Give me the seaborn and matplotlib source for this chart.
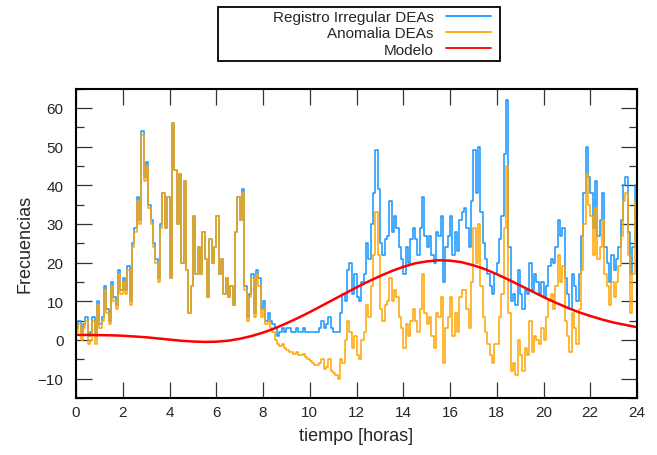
import numpy as np
import pandas as pd
import matplotlib
matplotlib.use("Agg")
import matplotlib.pyplot as plt
import seaborn as sns
from matplotlib.ticker import MultipleLocator

# ---------------- data ----------------
paso_horas = 0.1  # one value every 6 minutes

registro = [
    3, 5, 2, 4, 6, 1, 2, 6, 1, 10,            # 0 h
    4, 6, 14, 8, 5, 15, 11, 9, 18, 13,        # 1 h
    16, 13, 19, 10, 25, 29, 37, 31, 54, 42,   # 2 h
    46, 35, 31, 25, 21, 16, 30, 38, 29, 37,   # 3 h
    16, 56, 44, 30, 43, 20, 41, 18, 7, 14,    # 4 h
    32, 17, 24, 17, 28, 21, 11, 26, 20, 24,   # 5 h
    32, 17, 21, 12, 16, 11, 14, 9, 28, 37,    # 6 h
    31, 39, 14, 6, 12, 17, 7, 18, 16, 8,      # 7 h
    10, 5, 7, 5, 4, 3, 1, 2, 3, 2,            # 8 h
    3, 3, 2, 2, 3, 2, 2, 3, 2, 2,             # 9 h
    2, 2, 2, 2, 3, 5, 3, 4, 6, 3,             # 10 h
    2, 2, 2, 7, 12, 10, 18, 20, 12, 17,       # 11 h
    11, 10, 15, 17, 25, 21, 30, 38, 49, 39,   # 12 h
    25, 22, 26, 27, 36, 28, 32, 29, 24, 21,   # 13 h
    17, 24, 20, 26, 29, 26, 22, 29, 37, 27,   # 14 h
    24, 27, 22, 20, 28, 27, 32, 15, 24, 27,   # 15 h
    32, 22, 28, 23, 31, 33, 34, 29, 24, 36,   # 16 h
    49, 38, 50, 33, 25, 21, 17, 14, 12, 17,   # 17 h
    20, 26, 32, 48, 62, 24, 10, 12, 9, 18,    # 18 h
    12, 8, 13, 12, 20, 13, 17, 15, 12, 15,    # 19 h
    11, 14, 19, 21, 20, 24, 31, 27, 29, 16,   # 20 h
    12, 8, 17, 14, 10, 17, 27, 38, 50, 42,    # 21 h
    38, 29, 41, 27, 31, 38, 24, 20, 15, 22,   # 22 h
    18, 21, 24, 31, 40, 42, 28, 17, 24, 40,   # 23 h
]

anomalia = [
    2, 4, 0, 3, 5, -1, 0, 5, -1, 9,
    3, 5, 13, 7, 4, 14, 10, 8, 17, 12,
    15, 12, 18, 9, 24, 28, 36, 30, 53, 41,
    45, 34, 30, 24, 20, 15, 29, 38, 29, 37,
    16, 56, 44, 30, 43, 20, 41, 18, 7, 14,
    32, 17, 24, 17, 28, 21, 11, 26, 20, 24,
    32, 17, 21, 12, 16, 11, 14, 9, 28, 37,
    31, 38, 13, 5, 11, 16, 6, 17, 14, 6,
    8, 4, 5, 3, 2, 0, -1, -1.5, -1, -2,
    -2.5, -3, -3, -3.5, -3, -4, -4, -3.5, -4.5, -5,
    -5.5, -6, -6.5, -6.5, -6, -5, -7.5, -7, -5, -8,
    -8.5, -9, -10, -5, -6, 0, 5, 2, -2, 1,
    -4, -5, 0, 2, 9, 6, 14, 22, 33, 22,
    8, 5, 9, 10, 16, 10, 13, 11, 6, 3,
    -2, 4, 1, 5, 8, 5, 2, 8, 17, 7,
    4, 6, 1, -2, 7, 6, 11, -6, 3, 6,
    11, 1, 7, 2, 11, 13, 13, 8, 3, 15,
    29, 20, 30, 14, 6, 2, -1, -4, -6, -1,
    -1, 6, 12, 29, 45, 7, -8, -6, -9, 0,
    -4, -8, -2, -4, 5, -3, 1, 0, -1, 3,
    0, 6, 10, 12, 8, 14, 22, 15, 19, 5,
    1, -3, 7, 3, -1, 8, 18, 30, 43, 35,
    32, 22, 34, 21, 24, 31, 17, 14, 9, 15,
    11, 15, 19, 27, 36, 38, 22, 7, 17, 36,
]

paso_modelo = 0.5
modelo = [
    1.3, 1.3, 1.25, 1.2, 1.1, 0.9, 0.7, 0.4, 0.1, -0.2,
    -0.4, -0.5, -0.45, -0.2, 0.3, 1.0, 1.9, 3.0, 4.3, 5.7,
    7.2, 8.8, 10.4, 12.0, 13.6, 15.1, 16.5, 17.8, 18.9, 19.8,
    20.3, 20.6, 20.5, 20.1, 19.3, 18.3, 17.0, 15.6, 14.1, 12.6,
    11.1, 9.7, 8.4, 7.2, 6.2, 5.3, 4.5, 3.9, 3.3,
]

etiquetas = ["Registro Irregular DEAs", "Anomalia DEAs", "Modelo"]
x_ticks = [0, 2, 4, 6, 8, 10, 12, 14, 16, 18, 20, 22, 24]

# ---------------- frames ----------------
t = np.round(np.arange(len(registro)) * paso_horas, 2)
df = pd.DataFrame({"t": t, "registro": registro, "anomalia": anomalia})
t_mod = np.round(np.arange(len(modelo)) * paso_modelo, 2)
dfm = pd.DataFrame({"t": t_mod, "modelo": modelo})

# ---------------- style ----------------
sns.set_style("white")
plt.rcParams["font.family"] = ["Liberation Sans", "DejaVu Sans"]
plt.rcParams["axes.unicode_minus"] = True

W, H = 657, 456
fig = plt.figure(figsize=(W / 100, H / 100), dpi=100)
L, R, T, B = 76, 637, 89.5, 399
ax = fig.add_axes([L / W, 1 - B / H, (R - L) / W, (B - T) / H])

blue = "#1594ff"
orange = "#ffa500"
red = "#ff0000"

sns.lineplot(data=df, x="t", y="registro", ax=ax, color=blue, lw=1.1,
             drawstyle="steps-post", estimator=None, label=etiquetas[0])
sns.lineplot(data=df, x="t", y="anomalia", ax=ax, color=orange, lw=1.1,
             drawstyle="steps-post", estimator=None, label=etiquetas[1])
sns.lineplot(data=dfm, x="t", y="modelo", ax=ax, color=red, lw=1.8,
             estimator=None, label=etiquetas[2])

ax.set_xlim(0, 24)
ax.set_ylim(-15, 65)
ax.set_xticks(x_ticks)
ax.yaxis.set_major_locator(MultipleLocator(10))
ax.yaxis.set_minor_locator(MultipleLocator(5))
ax.tick_params(which="both", direction="in", top=True, right=True,
               bottom=True, left=True, color="#333333", width=0.9)
ax.tick_params(which="major", length=11.5, labelsize=11)
ax.tick_params(axis="x", which="major", pad=5)
ax.tick_params(axis="y", which="major", pad=9)
ax.tick_params(which="minor", length=6)
for s in ax.spines.values():
    s.set_visible(True)
    s.set_color("black")
    s.set_linewidth(1.5)

ax.set_xlabel("tiempo [horas]", fontsize=13)
ax.set_ylabel("Frecuencias", fontsize=13)
ax.xaxis.set_label_coords(0.5, -0.095)
ax.yaxis.set_label_coords(-0.075, 0.5)

handles, labels = ax.get_legend_handles_labels()
ax.get_legend().remove()
leg = fig.legend(handles, labels, loc="upper right",
                 bbox_to_anchor=(491 / W, 1 - 11 / H),
                 markerfirst=False, frameon=False, fontsize=11,
                 handlelength=2.95, handletextpad=0.8,
                 labelspacing=0.15, borderpad=0, borderaxespad=0)
for ln in leg.get_lines():
    ln.set_linewidth(1.3)
fig.add_artist(plt.Rectangle((218 / W, 1 - 62 / H), 282 / W, 54 / H,
                             transform=fig.transFigure, fill=False,
                             edgecolor="black", lw=1.3))

fig.savefig("out.png", dpi=100)
